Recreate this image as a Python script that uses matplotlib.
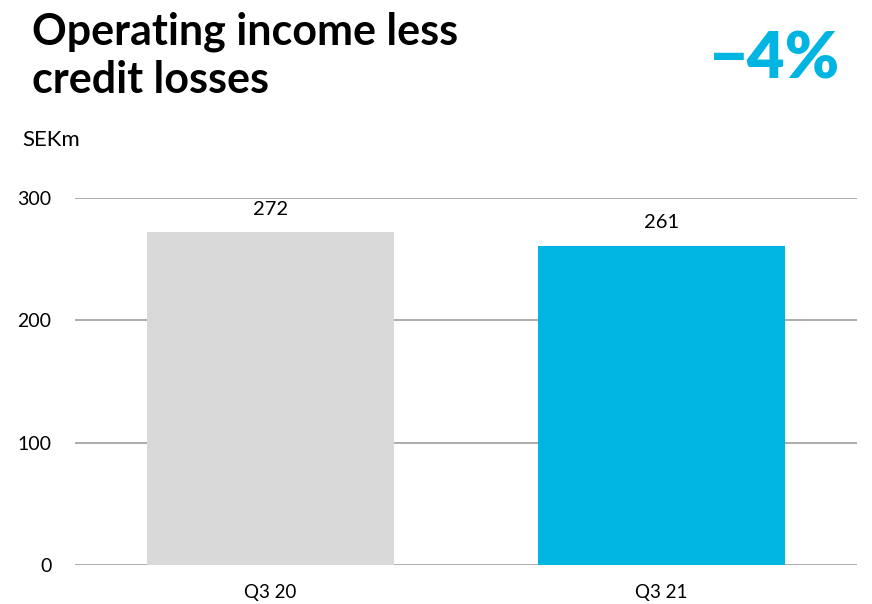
import matplotlib.pyplot as plt

# Kvartalsdata, SEKm
categories = ["Q3 20", "Q3 21"]
values = [272, 261]
bar_colors = ["#d9d9d9", "#00b5e2"]
change_label = "\u22124%"
y_ticks = [0, 100, 200, 300]

plt.rcParams['font.family'] = ['Lato', 'DejaVu Sans']

fig = plt.figure(figsize=(8.72, 6.04), dpi=100)
ax = fig.add_axes([75 / 872, 1 - 565 / 604, 782 / 872, 367 / 604])

x = range(len(categories))
bars = ax.bar(x, values, width=0.63, color=bar_colors, zorder=2)

for xi, v in zip(x, values):
    ax.text(xi, v + 12, str(v), ha='center', va='bottom', fontsize=14.5, color='black')

ax.set_xlim(-0.5, 1.5)
ax.set_ylim(0, 300)
ax.set_yticks(y_ticks)
ax.set_xticks(list(x))
ax.set_xticklabels(categories)
ax.yaxis.grid(True, color='#a6a6a6', linewidth=1.3, zorder=1)
ax.set_axisbelow(True)
for s in ax.spines.values():
    s.set_visible(False)
ax.tick_params(axis='y', length=0, pad=17, labelsize=14)
ax.tick_params(axis='x', length=0, pad=14, labelsize=13.5)

fig.text(32 / 872, 1 - 11 / 604, "Operating income less\ncredit losses", ha='left', va='top',
         fontsize=31, fontweight='bold', linespacing=1.26)
fig.text(840 / 872, 1 - 60 / 604, change_label, ha='right', va='center',
         fontsize=47, fontweight='heavy', color='#00b5e2')
fig.text(22 / 872, 1 - 140 / 604, "SEKm", ha='left', va='center', fontsize=16)

fig.savefig("out.png", dpi=100)
